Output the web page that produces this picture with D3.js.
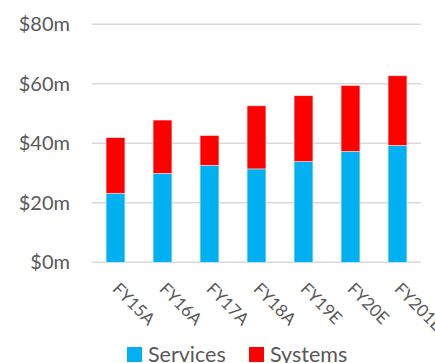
<!DOCTYPE html>
<html lang="en">

<head>
    <meta charset="UTF-8">
    <title>Services and Systems revenue</title>
    <script src="https://d3js.org/d3.v7.min.js"></script>
    <style>
        body {
            margin: 0;
            background: #fff;
        }

        text {
            font-family: Lato, "Open Sans", sans-serif;
            fill: #595959;
        }
    </style>
</head>

<body>
    <svg width="435" height="363"></svg>

    <script>
        // values in $m
        const years = ["FY15A", "FY16A", "FY17A", "FY18A", "FY19E", "FY20E", "FY201E"];
        const services = [23.2, 29.9, 32.6, 31.4, 33.9, 37.3, 39.3];
        const systems = [18.7, 17.9, 10.0, 21.2, 22.1, 22.1, 23.4];
        const yTicks = [0, 20, 40, 60, 80];
        const seriesNames = ["Services", "Systems"];
        const seriesColors = ["#00B0F0", "#FF0000"];

        let svg = d3.select("svg");

        let x = d3.scaleBand()
            .domain(years)
            .range([92, 421])
            .paddingInner(0.6)
            .paddingOuter(0.3);

        let y = d3.scaleLinear()
            .domain([0, 80])
            .range([262.3, 24.3]);

        // gridlines
        svg.append("g")
            .selectAll("line")
            .data(yTicks)
            .enter()
            .append("line")
            .attr("x1", 92)
            .attr("x2", 421)
            .attr("y1", d => y(d))
            .attr("y2", d => y(d))
            .attr("stroke", "#d9d9d9")
            .attr("stroke-width", 1.5);

        // y labels
        svg.append("g")
            .selectAll("text")
            .data(yTicks)
            .enter()
            .append("text")
            .attr("x", 70)
            .attr("y", d => y(d) + 7)
            .attr("text-anchor", "end")
            .attr("font-size", "20px")
            .text(d => "$" + d + "m");

        // stacked bars
        let table = years.map((yr, i) => ({ year: yr, Services: services[i], Systems: systems[i] }));
        let stacked = d3.stack().keys(seriesNames)(table);

        svg.append("g")
            .selectAll("g")
            .data(stacked)
            .enter()
            .append("g")
            .attr("fill", (d, i) => seriesColors[i])
            .selectAll("rect")
            .data(d => d)
            .enter()
            .append("rect")
            .attr("x", d => x(d.data.year))
            .attr("width", x.bandwidth())
            .attr("y", d => y(d[1]))
            .attr("height", d => y(d[0]) - y(d[1]))
            .attr("stroke", "#ffffff")
            .attr("stroke-opacity", 0.6)
            .attr("stroke-width", 0.7);

        // x labels, rotated
        svg.append("g")
            .selectAll("text")
            .data(years)
            .enter()
            .append("text")
            .attr("transform", d => {
                let cx = x(d) + x.bandwidth() / 2 - 4;
                return "translate(" + cx + ",290) rotate(45)";
            })
            .attr("font-size", "17px")
            .text(d => d);

        // legend
        let legendX = [127, 249];
        let legend = svg.append("g")
            .selectAll("g")
            .data(seriesNames)
            .enter()
            .append("g")
            .attr("transform", (d, i) => "translate(" + legendX[i] + ",347)");

        legend.append("rect")
            .attr("width", 15)
            .attr("height", 15)
            .attr("fill", (d, i) => seriesColors[i]);

        legend.append("text")
            .attr("x", 21)
            .attr("y", 15)
            .attr("font-size", "21.5px")
            .text(d => d);
    </script>
</body>

</html>
